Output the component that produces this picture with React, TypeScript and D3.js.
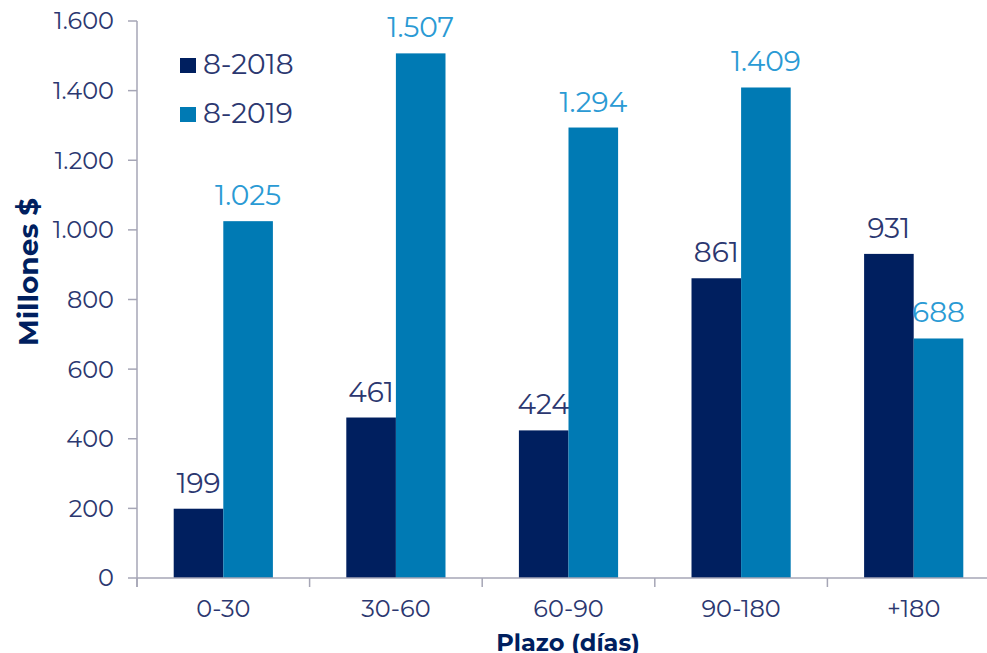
import React from "react";
import * as d3 from "d3";

const categories = ["0-30", "30-60", "60-90", "90-180", "+180"];
const seriesNames = ["8-2018", "8-2019"];
const values2018 = [199, 461, 424, 861, 931];
const values2019 = [1025, 1507, 1294, 1409, 688];
const yTicks = [0, 200, 400, 600, 800, 1000, 1200, 1400, 1600];

const W = 987;
const H = 653;
const FONT = "Montserrat, 'DejaVu Sans', sans-serif";
const DARK = "#001f5f";
const LIGHT = "#007ab4";
const LIGHT_TEXT = "#2a9ad4";
const TEXT = "#2b3770";
const AXIS = "#a6a6b6";

const locale = d3.formatLocale({ decimal: ",", thousands: ".", grouping: [3], currency: ["$", ""] });
const fmt = locale.format(",d");

export default function App() {
  const x0 = d3.scaleBand<string>().domain(categories).range([137, 1000]).paddingInner(0).paddingOuter(0);
  const x1 = d3.scaleBand<string>().domain(seriesNames).range([0, x0.bandwidth()]).paddingInner(0).paddingOuter(0.74);
  const y = d3.scaleLinear().domain([0, 1600]).range([578, 21]);
  const series = [values2018, values2019];
  const colors = [DARK, LIGHT];
  const labelColors = [TEXT, LIGHT_TEXT];

  return (
    <svg width={W} height={H} style={{ position: "absolute", left: 0, top: 0, background: "#fff" }} fontFamily={FONT}>
      {/* y axis */}
      <line x1={137} x2={137} y1={y(1600)} y2={y(0) + 9} stroke={AXIS} strokeWidth={1.5} />
      {yTicks.map((t) => (
        <g key={t}>
          <line x1={128} x2={137} y1={y(t)} y2={y(t)} stroke={AXIS} strokeWidth={1.5} />
          <text x={114} y={y(t)} dy="0.35em" textAnchor="end" fontSize={24} fill={TEXT}>
            {fmt(t)}
          </text>
        </g>
      ))}
      {/* bars */}
      {categories.map((c, i) => (
        <g key={c} transform={`translate(${x0(c)},0)`}>
          {series.map((s, j) => (
            <g key={j}>
              <rect x={x1(seriesNames[j])} y={y(s[i])} width={x1.bandwidth()} height={y(0) - y(s[i])} fill={colors[j]} />
              <text x={(x1(seriesNames[j]) as number) + x1.bandwidth() / 2} y={y(s[i]) - 16} textAnchor="middle" fontSize={28} fill={labelColors[j]}>
                {fmt(s[i])}
              </text>
            </g>
          ))}
        </g>
      ))}
      {/* x axis */}
      <line x1={137} x2={1000} y1={y(0)} y2={y(0)} stroke={AXIS} strokeWidth={1.5} />
      {categories.map((c, i) => (
        <g key={c}>
          <line x1={(x0(c) as number)} x2={(x0(c) as number)} y1={y(0)} y2={y(0) + 9} stroke={AXIS} strokeWidth={1.5} />
          <text x={(x0(c) as number) + x0.bandwidth() / 2} y={609} dy="0.35em" textAnchor="middle" fontSize={24} fill={TEXT}>
            {c}
          </text>
        </g>
      ))}
      {/* axis titles */}
      <text x={568} y={651} textAnchor="middle" fontSize={24} fontWeight="bold" fill={DARK}>
        Plazo (días)
      </text>
      <text transform={`translate(38,${272}) rotate(-90)`} textAnchor="middle" fontSize={28} fontWeight="bold" fill={DARK}>
        Millones $
      </text>
      {/* legend */}
      {seriesNames.map((n, j) => (
        <g key={n} transform={`translate(180,${58 + j * 49})`}>
          <rect x={0} y={0} width={16} height={15} fill={colors[j]} />
          <text x={23} y={16} fontSize={28} fill={TEXT}>
            {n}
          </text>
        </g>
      ))}
    </svg>
  );
}
